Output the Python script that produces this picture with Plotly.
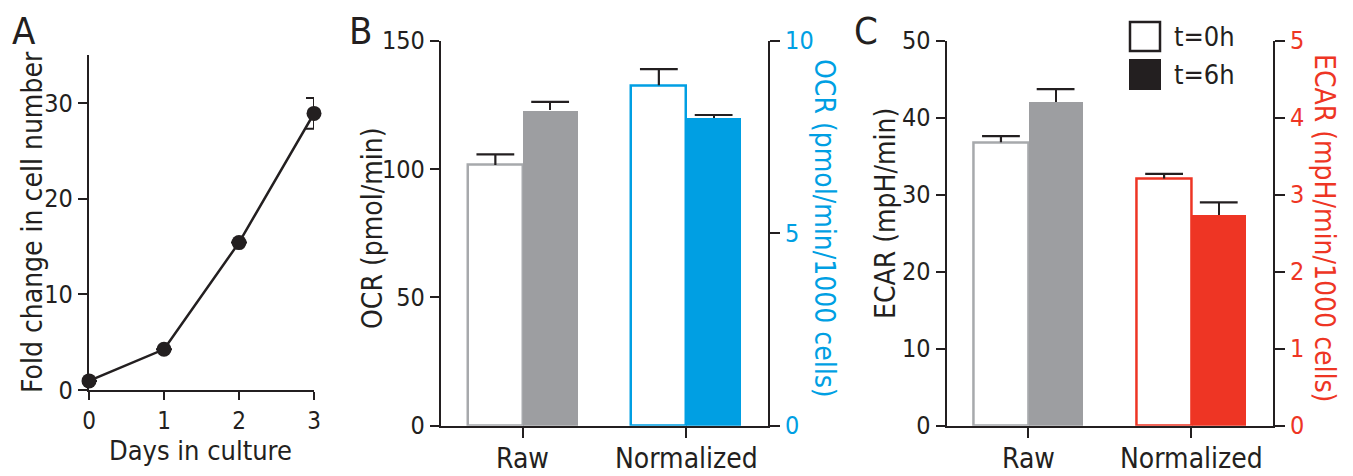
import plotly.graph_objects as go

# ---------------- data ----------------
days = [0, 1, 2, 3]
fold_change = [0.95, 4.25, 15.4, 28.9]
fold_err = [0, 0, 0, 1.6]

categories = ["Raw", "Normalized"]
ocr_raw = [101.6, 122.9]          # t=0h, t=6h (pmol/min)
ocr_raw_err = [4.1, 3.3]
ocr_norm = [8.84, 7.99]           # t=0h, t=6h (pmol/min/1000 cells)
ocr_norm_err = [0.42, 0.08]
ecar_raw = [36.8, 42.1]           # mpH/min
ecar_raw_err = [0.8, 1.6]
ecar_norm = [3.21, 2.74]          # mpH/min/1000 cells
ecar_norm_err = [0.06, 0.16]
legend_labels = ["t=0h", "t=6h"]
panel_letters = ["A", "B", "C"]

# ---------------- style ----------------
FONT = "Liberation Sans Narrow, DejaVu Sans Condensed, Arial Narrow, sans-serif"
INK = "#231F20"
GREY = "#9D9EA1"
GREY_LINE = "#A7A9AC"
CYAN = "#009FE3"
RED = "#EE3524"
OFF = 8                      # page body margin
W = 1353 - OFF
H = 476 - OFF
BW = 0.335

def px(x):
    return (x - OFF) / W

def py(y):
    return 1 - (y - OFF) / H

fig = go.Figure()

# Panel A
fig.add_trace(go.Scatter(
    x=days, y=fold_change, mode="lines+markers",
    line=dict(color=INK, width=2.5),
    marker=dict(color=INK, size=15),
    error_y=dict(type="data", array=fold_err, color=INK, thickness=2, width=8),
    xaxis="x", yaxis="y", cliponaxis=False, showlegend=False))

def add_bar(idx, side, val, err, xa, ya, fill, edge, ew):
    xc = idx + (-BW / 2 if side == 0 else BW / 2)
    fig.add_trace(go.Bar(
        x=[xc], y=[val], width=BW,
        marker=dict(color=fill, line=dict(color=edge, width=ew)),
        error_y=dict(type="data", symmetric=False, array=[err], arrayminus=[0],
                     color=INK, thickness=2.2, width=0),
        xaxis=xa, yaxis=ya, showlegend=False))
    # error-bar cap (upper only)
    fig.add_trace(go.Scatter(
        x=[xc], y=[val + err], mode="markers",
        marker=dict(symbol="line-ew", size=27, color=INK,
                    line=dict(color=INK, width=2.2)),
        xaxis=xa, yaxis=ya, cliponaxis=False, showlegend=False, hoverinfo="skip"))

def add_pair(vals, errs, idx, xa, ya, edge, fill):
    add_bar(idx, 0, vals[0], errs[0], xa, ya, "white", edge, 2.5)
    add_bar(idx, 1, vals[1], errs[1], xa, ya, fill, fill, 0)

add_pair(ocr_raw, ocr_raw_err, 0, "x2", "y2", GREY_LINE, GREY)
add_pair(ocr_norm, ocr_norm_err, 1, "x2", "y3", CYAN, CYAN)
add_pair(ecar_raw, ecar_raw_err, 0, "x3", "y4", GREY_LINE, GREY)
add_pair(ecar_norm, ecar_norm_err, 1, "x3", "y5", RED, RED)

tickfont = dict(family=FONT, size=25, color=INK)
common_axis = dict(showgrid=False, zeroline=False, showline=True, linecolor=INK,
                   linewidth=2.2, ticks="outside", tickcolor=INK, tickwidth=2.2,
                   ticklen=9, tickfont=tickfont, automargin=False)

catax = dict(common_axis, range=[-0.5, 1.5], tickvals=[0, 1],
             ticktext=categories, ticklen=10, showticklabels=False)

fig.update_layout(
    width=W, height=H, margin=dict(l=0, r=0, t=0, b=0, autoexpand=False),
    paper_bgcolor="white", plot_bgcolor="white",
    font=dict(family=FONT, color=INK), bargap=0,
    xaxis=dict(common_axis, domain=[px(89), px(314)], range=[0, 3],
               tickvals=days, ticklen=8, anchor="y",
               tickfont=dict(family=FONT, size=24, color=INK)),
    yaxis=dict(common_axis, domain=[py(390), py(55)], range=[0, 35],
               tickvals=[0, 10, 20, 30], anchor="x"),
    xaxis2=dict(catax, domain=[px(441), px(768)], anchor="y2"),
    yaxis2=dict(common_axis, domain=[py(425.7), py(40.7)], range=[0, 150],
                tickvals=[0, 50, 100, 150], anchor="x2"),
    yaxis3=dict(common_axis, overlaying="y2", side="right", anchor="x2",
                range=[0, 10], tickvals=[0, 5, 10], ticklen=10,
                tickfont=dict(family=FONT, size=25, color=CYAN)),
    xaxis3=dict(catax, domain=[px(946.7), px(1273)], anchor="y4"),
    yaxis4=dict(common_axis, domain=[py(425.7), py(40.7)], range=[0, 50],
                tickvals=[0, 10, 20, 30, 40, 50], anchor="x3"),
    yaxis5=dict(common_axis, overlaying="y4", side="right", anchor="x3",
                range=[0, 5], tickvals=[0, 1, 2, 3, 4, 5], ticklen=10,
                tickfont=dict(family=FONT, size=25, color=RED)),
)

def ann(text, x, y, size, color=INK, angle=0, xanchor="center"):
    fig.add_annotation(text=text, x=px(x), y=py(y), xref="paper", yref="paper",
                       showarrow=False, textangle=angle, xanchor=xanchor,
                       yanchor="middle", font=dict(family=FONT, size=size, color=color))

# category labels (below the category ticks)
for xa in ["x2", "x3"]:
    for i, cat in enumerate(categories):
        fig.add_annotation(text=cat, x=i, xref=xa, y=0, yref="paper",
                           showarrow=False, xanchor="center", yanchor="bottom",
                           borderpad=0, font=dict(family=FONT, size=28, color=INK))

# panel letters
for letter, xc in zip(panel_letters, [24, 360, 866]):
    fig.add_annotation(text=letter, x=px(xc), y=1, xref="paper", yref="paper",
                       showarrow=False, xanchor="center", yanchor="top",
                       borderpad=0, font=dict(family=FONT, size=38, color=INK))

# axis titles
ann("Fold change in cell number", 33, 222, 28, angle=-90)
ann("Days in culture", 200, 450, 27)
ann("OCR (pmol/min)", 372, 228, 28, angle=-90)
ann("OCR (pmol/min/1000 cells)", 825, 228, 28, color=CYAN, angle=90)
ann("ECAR (mpH/min)", 885, 214, 28, angle=-90)
ann("ECAR (mpH/min/1000 cells)", 1325, 228, 28, color=RED, angle=90)

# legend
fig.add_shape(type="rect", xref="paper", yref="paper",
              x0=px(1130), x1=px(1160), y0=py(51), y1=py(22),
              line=dict(color=INK, width=2.5), fillcolor="white")
fig.add_shape(type="rect", xref="paper", yref="paper",
              x0=px(1129), x1=px(1161), y0=py(90), y1=py(59),
              line=dict(color=INK, width=0), fillcolor=INK)
ann(legend_labels[0], 1172, 36, 27, xanchor="left")
ann(legend_labels[1], 1172, 75, 27, xanchor="left")

fig.write_html("out.html")
